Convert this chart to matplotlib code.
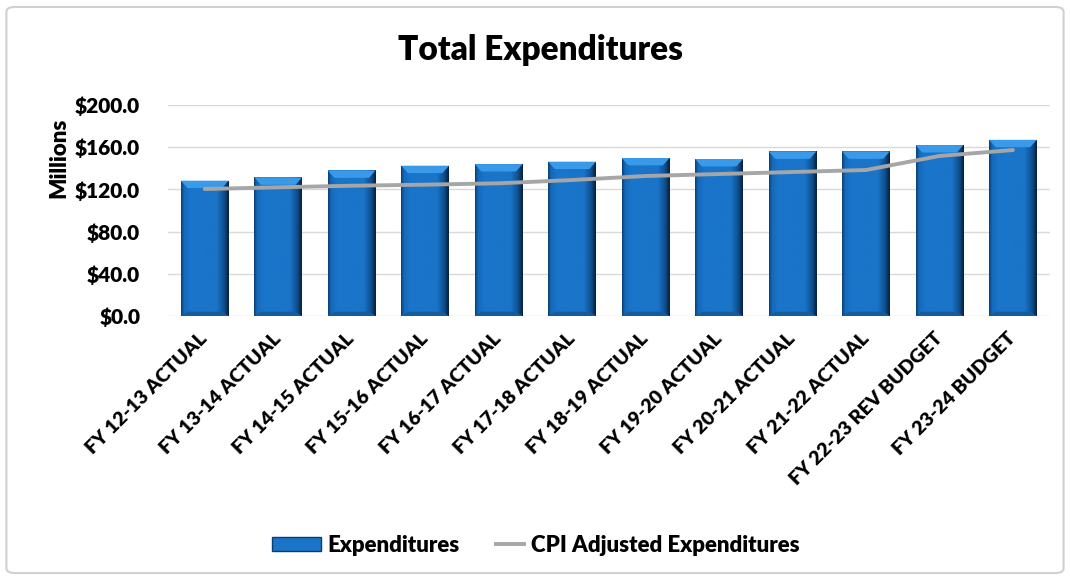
import matplotlib.pyplot as plt
import numpy as np
from matplotlib.colors import LinearSegmentedColormap
from matplotlib.lines import Line2D
from matplotlib.patches import Patch, Polygon, FancyBboxPatch

plt.rcParams['font.family'] = ['Lato', 'DejaVu Sans']
plt.rcParams['font.weight'] = 'bold'

years = ['FY 12-13 ACTUAL', 'FY 13-14 ACTUAL', 'FY 14-15 ACTUAL', 'FY 15-16 ACTUAL',
         'FY 16-17 ACTUAL', 'FY 17-18 ACTUAL', 'FY 18-19 ACTUAL', 'FY 19-20 ACTUAL',
         'FY 20-21 ACTUAL', 'FY 21-22 ACTUAL', 'FY 22-23 REV BUDGET', 'FY 23-24 BUDGET']
expenditures = [128.3, 131.4, 138.0, 142.5, 144.0, 146.3, 149.8, 148.8, 156.0, 156.0, 162.0, 167.0]
cpi_adjusted = [120.4, 122.0, 123.5, 124.5, 125.8, 128.9, 132.7, 134.6, 136.5, 138.4, 151.7, 157.3]
y_ticks = [0, 40, 80, 120, 160, 200]

BAR_BLUE = '#1a74c8'
LINE_GREY = '#a6a6a6'

fig = plt.figure(figsize=(10.7, 5.8), dpi=100)
ax = fig.add_axes([0.157, 0.455, 0.824, 0.364])

# light frame around the whole chart
frame = FancyBboxPatch((0.006, 0.012), 0.988, 0.976, boxstyle='round,pad=0,rounding_size=0.008',
                       transform=fig.transFigure, facecolor='none', edgecolor='#d0d0d0', lw=1.5)
fig.patches.append(frame)

x = np.arange(len(years))
width = 0.65
bars = ax.bar(x, expenditures, width=width, color=BAR_BLUE, zorder=2)

# bevelled look: horizontal shading clipped to each bar plus light top / dark bottom bevel
shade = LinearSegmentedColormap.from_list('shade', [
    (0.0, '#0c3d6e'), (0.06, '#1468b8'), (0.2, '#1a76cb'), (0.75, '#1a74c8'),
    (0.9, '#0f4f8e'), (1.0, '#061f3a')])
grad = np.linspace(0, 1, 256).reshape(1, -1)
bevel_x = 0.09
bevel_y = 7.0
for bar in bars:
    x0 = bar.get_x()
    x1 = x0 + bar.get_width()
    h = bar.get_height()
    im = ax.imshow(grad, cmap=shade, aspect='auto', extent=(x0, x1, 0, h), zorder=2.1)
    im.set_clip_path(bar)
    top = Polygon([(x0, h), (x1, h), (x1 - bevel_x, h - bevel_y), (x0 + bevel_x, h - bevel_y)],
                  closed=True, facecolor='#3a9aea', edgecolor='none', zorder=2.2)
    ax.add_patch(top)
    bottom = Polygon([(x0, 0), (x1, 0), (x1 - bevel_x, bevel_y * 0.6), (x0 + bevel_x, bevel_y * 0.6)],
                     closed=True, facecolor='#155c9e', edgecolor='none', zorder=2.2)
    ax.add_patch(bottom)

ax.plot(x, cpi_adjusted, color=LINE_GREY, lw=2.8, solid_capstyle='round',
        solid_joinstyle='round', zorder=3)

ax.set_xlim(-0.5, len(years) - 0.5)
ax.set_ylim(0, 200)
ax.set_yticks(y_ticks)
ax.set_yticklabels([f'${v:.1f}' for v in y_ticks], fontsize=15, fontweight='heavy')
ax.yaxis.grid(True, color='#d9d9d9', lw=1, zorder=0)
ax.set_axisbelow(True)
ax.tick_params(axis='y', length=0, pad=20)
for s in ax.spines.values():
    s.set_visible(False)

ax.set_xticks(x)
ax.set_xticklabels(years, rotation=45, ha='right', va='center', rotation_mode='anchor',
                   fontsize=14, fontweight='heavy')
ax.tick_params(axis='x', length=0, pad=14)

ax.set_ylabel('Millions', fontsize=16, fontweight='heavy')
ax.yaxis.set_label_coords(-0.112, 0.75)
fig.text(0.505, 0.913, 'Total Expenditures', ha='center', va='center',
         fontsize=24, fontweight='heavy')

# two single-entry legends so the bar swatch can be longer than the line swatch
legend_font = {'size': 16, 'weight': 'heavy'}
leg1 = fig.legend(handles=[Patch(facecolor=BAR_BLUE, edgecolor='#0c3d6e', label='Expenditures')],
                  loc='center left', bbox_to_anchor=(0.254, 0.06), frameon=False, prop=legend_font,
                  handlelength=2.2, handleheight=0.55, handletextpad=0.3, borderpad=0, borderaxespad=0)
leg2 = fig.legend(handles=[Line2D([0], [0], color=LINE_GREY, lw=2.8, label='CPI Adjusted Expenditures')],
                  loc='center left', bbox_to_anchor=(0.464, 0.06), frameon=False, prop=legend_font,
                  handlelength=1.25, handletextpad=0.3, borderpad=0, borderaxespad=0)

fig.savefig('out.png', dpi=100)
plt.close()
